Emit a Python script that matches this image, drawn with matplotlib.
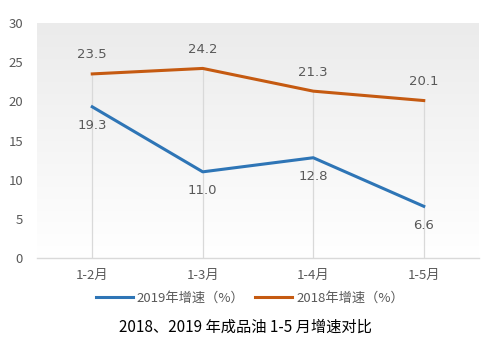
import matplotlib
matplotlib.use("Agg")
import matplotlib.pyplot as plt
import numpy as np
from matplotlib.colors import LinearSegmentedColormap

plt.rcParams['font.family'] = ['Noto Sans CJK SC', 'DejaVu Sans']

categories = ["1-2月", "1-3月", "1-4月", "1-5月"]
growth_2019 = [19.3, 11.0, 12.8, 6.6]
growth_2018 = [23.5, 24.2, 21.3, 20.1]
yticks = [0, 5, 10, 15, 20, 25, 30]
label_2019 = "2019年增速（%）"
label_2018 = "2018年增速（%）"
title = "2018、2019 年成品油 1-5 月增速对比"

W, H = 485, 353
fig = plt.figure(figsize=(W/100, H/100), dpi=100)
ax = fig.add_axes([37/W, 1-258/H, (479-37)/W, (258-23)/H])

x = np.arange(len(categories))

# gradient background
grad = np.linspace(0, 1, 256).reshape(-1, 1)
cmap = LinearSegmentedColormap.from_list("bg", ["#ffffff", "#ebebeb"])
ax.imshow(grad, extent=[-0.5, len(categories)-0.5, 30, 0], aspect='auto', cmap=cmap, zorder=0, origin='upper')
ax.set_xlim(-0.5, len(categories)-0.5)
ax.set_ylim(0, 30)

blue = "#2E75B6"
orange = "#C55A11"

# drop lines
for xi, a, b in zip(x, growth_2019, growth_2018):
    ax.plot([xi, xi], [0, max(a, b)], color="#d9d9d9", lw=0.9, zorder=1)

ax.plot(x, growth_2019, color=blue, lw=2.2, label=label_2019, zorder=3)
ax.plot(x, growth_2018, color=orange, lw=2.2, label=label_2018, zorder=3)

for xi, v in zip(x, growth_2018):
    ax.annotate(f"{v:.1f}", (xi, v), xytext=(0, 9), textcoords="offset points",
                ha="center", va="bottom", fontsize=9.5, color="#595959", family=['DejaVu Sans'])
for xi, v in zip(x, growth_2019):
    ax.annotate(f"{v:.1f}", (xi, v), xytext=(0, -9), textcoords="offset points",
                ha="center", va="top", fontsize=9.5, color="#595959", family=['DejaVu Sans'])

ax.set_xticks(x)
ax.set_xticklabels(categories)
ax.set_yticks(yticks)
ax.tick_params(axis='both', length=0, colors="#595959", labelsize=9.5)
ax.tick_params(axis='x', pad=8)
ax.tick_params(axis='y', pad=10)
for s in ["top", "right", "left"]:
    ax.spines[s].set_visible(False)
ax.spines["bottom"].set_color("#d9d9d9")
ax.spines["bottom"].set_linewidth(1)

leg = fig.legend(loc="center", bbox_to_anchor=(250/W, 1-298/H), ncol=2, frameon=False,
                 fontsize=9.5, handlelength=2.8, columnspacing=0.8, handletextpad=0.3)
for t in leg.get_texts():
    t.set_color("#595959")

fig.text(245/W, 1-327/H, title, ha="center", va="center", fontsize=11, color="#000000")

fig.savefig("out.png", dpi=100, facecolor="white")
